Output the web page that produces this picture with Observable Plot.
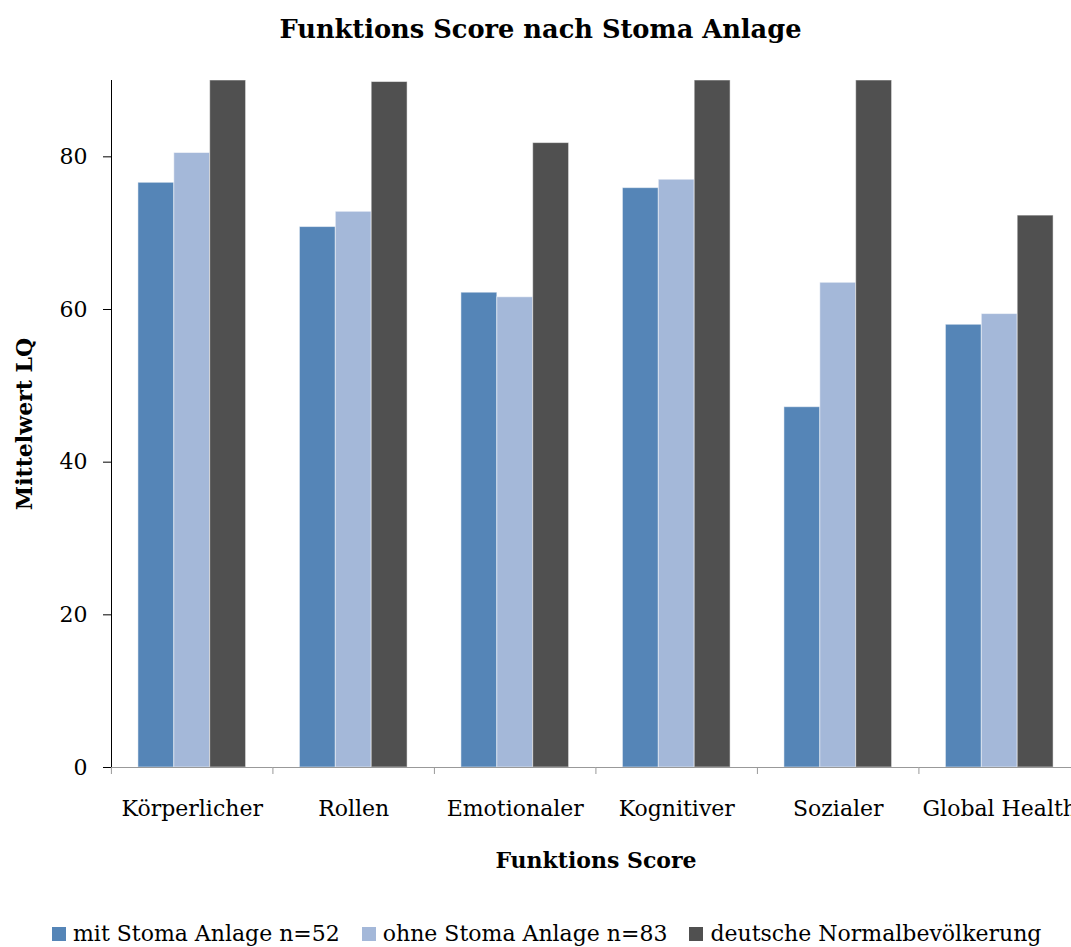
<!DOCTYPE html>
<html>
<head>
<meta charset="utf-8">
<script src="https://cdn.jsdelivr.net/npm/d3@7"></script>
<script src="https://cdn.jsdelivr.net/npm/@observablehq/plot@0.6"></script>
<style>
  html, body { margin: 0; padding: 0; background: #fff; overflow: hidden; }
  #wrap { position: relative; width: 1071px; height: 947px; overflow: hidden; font-family: "DejaVu Serif", serif; }
  #title { position: absolute; top: 14px; left: 0; width: 1081px; text-align: center; font-weight: bold; font-size: 25.7px; color: #000; }
  #chart { position: absolute; top: 62px; left: 0; }
  #chart svg { overflow: hidden; max-width: none; }
  #legend { position: absolute; top: 917px; left: 52px; width: 1100px; white-space: nowrap; }
  #legend svg { margin-right: 7px !important; }
  [aria-label="y-axis label"], [aria-label="fx-axis label"] { font-weight: bold; }
</style>
</head>
<body>
<div id="wrap">
  <div id="title">Funktions Score nach Stoma Anlage</div>
  <div id="chart"></div>
  <div id="legend"></div>
</div>
<script>
const categories = ["Körperlicher", "Rollen", "Emotionaler", "Kognitiver", "Sozialer", "Global Health"];
const series = ["mit Stoma Anlage n=52", "ohne Stoma Anlage n=83", "deutsche Normalbevölkerung"];
const mit = [76.6, 70.8, 62.2, 75.9, 47.2, 58.0];
const ohne = [80.5, 72.8, 61.6, 77.0, 63.5, 59.4];
const deutsche = [90, 89.8, 81.8, 90, 90, 72.3];
const yTicks = [0, 20, 40, 60, 80];
const colors = ["#5585B7", "#A4B8D9", "#505050"];

const data = categories.flatMap((c, i) =>
  [mit[i], ohne[i], deutsche[i]].map((v, j) => ({category: c, series: series[j], value: v}))
);

const plot = Plot.plot({
  width: 1080,
  height: 820,
  marginLeft: 111,
  marginRight: 0,
  marginTop: 18,
  marginBottom: 115,
  style: {fontFamily: "DejaVu Serif, serif", fontSize: "22px", color: "#000", background: "#fff"},
  fx: {domain: categories, padding: 0, round: false, label: "Funktions Score", labelAnchor: "center", labelOffset: 100, labelArrow: false, tickSize: 0, tickPadding: 33},
  x: {domain: series, padding: 0, paddingOuter: 0.75, round: false, axis: null},
  y: {domain: [0, 90], ticks: yTicks, tickSize: 8, tickPadding: 16, line: true, label: "Mittelwert LQ", labelAnchor: "center", labelOffset: 95, labelArrow: false, grid: false},
  color: {domain: series, range: colors},
  marks: [
    Plot.barY(data, {fx: "category", x: "series", y: "value", fill: "series", stroke: "#fff", strokeOpacity: 0.5, strokeWidth: 1}),
    Plot.ruleY([0], {stroke: "#999"}),
    Plot.ruleX([series[0]], {x: d => d, y1: 0, y2: 0, dx: -27 - 161.5 / 4.5 / 2, insetBottom: -7, stroke: "#999"})
  ]
});
d3.select(plot).selectAll('[aria-label="y-axis tick"], [aria-label="y-axis line"]').attr("stroke", "#999");
document.getElementById("chart").appendChild(plot);

const legend = plot.legend("color", {swatchSize: 14, style: {fontFamily: "DejaVu Serif, serif", fontSize: "22px", color: "#000"}});
document.getElementById("legend").appendChild(legend);
</script>
</body>
</html>
